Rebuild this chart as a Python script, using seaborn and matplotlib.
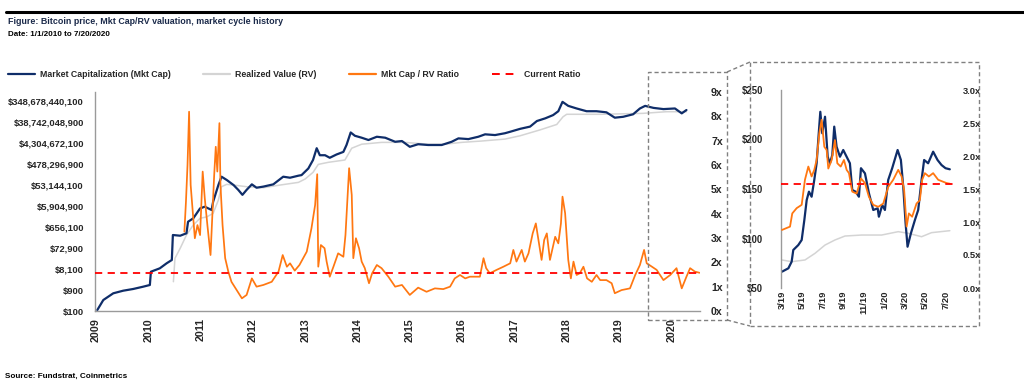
import matplotlib
matplotlib.use("Agg")
import matplotlib.pyplot as plt
import seaborn as sns
import pandas as pd
from matplotlib.lines import Line2D
from matplotlib.patches import Rectangle
from matplotlib import font_manager as fm
from matplotlib.ticker import NullLocator

# ---------------- data ----------------
mc_year = [2009.025, 2009.14, 2009.33, 2009.52, 2009.71, 2009.90, 2010.03, 2010.05, 2010.22, 2010.35,
           2010.45, 2010.47, 2010.61, 2010.73, 2010.76, 2010.86, 2010.99, 2011.08, 2011.21, 2011.24,
           2011.34, 2011.40, 2011.50, 2011.63, 2011.72, 2011.80, 2011.88, 2011.98, 2012.07, 2012.20,
           2012.39, 2012.58, 2012.71, 2012.87, 2012.93, 2013.06, 2013.15, 2013.22, 2013.28, 2013.38,
           2013.47, 2013.60, 2013.73, 2013.79, 2013.87, 2013.95, 2014.08, 2014.21, 2014.37, 2014.53,
           2014.72, 2014.85, 2015.00, 2015.16, 2015.35, 2015.61, 2015.80, 2015.93, 2016.12, 2016.31,
           2016.44, 2016.63, 2016.82, 2016.92, 2017.11, 2017.30, 2017.43, 2017.59, 2017.74, 2017.84,
           2017.92, 2018.03, 2018.19, 2018.38, 2018.57, 2018.76, 2018.92, 2019.08, 2019.27, 2019.40,
           2019.50, 2019.66, 2019.85, 2020.07, 2020.20, 2020.29]
mc_value = [111, 316, 637, 837, 1000, 1270, 1520, 6100, 8700, 14700,
            20800, 284000, 264000, 340000, 1.14e6, 1.63e6, 4.6e6, 5.5e6, 3.9e6, 9.3e6,
            5.3e7, 1.27e8, 9.0e7, 5.3e7, 3.2e7, 1.9e7, 3.2e7, 5.7e7, 4.0e7, 4.5e7,
            5.7e7, 1.27e8, 1.14e8, 1.41e8, 1.5e8, 3.0e8, 7.3e8, 2.5e9, 1.2e9, 1.2e9,
            9.2e8, 1.3e9, 1.7e9, 3.5e9, 1.3e10, 9.2e9, 7.5e9, 5.9e9, 8.3e9, 7.5e9,
            4.9e9, 5.3e9, 2.9e9, 3.8e9, 3.5e9, 3.5e9, 4.9e9, 7.0e9, 6.5e9, 8.3e9,
            1.07e10, 9.9e9, 1.2e10, 1.4e10, 1.9e10, 2.4e10, 4.3e10, 5.7e10, 8.0e10, 1.2e11,
            3.2e11, 2.1e11, 1.6e11, 1.2e11, 1.2e11, 1.07e11, 6.1e10, 6.7e10, 8.7e10, 1.6e11,
            2.1e11, 1.7e11, 1.5e11, 1.6e11, 9.6e10, 1.36e11]

rv_year = [2010.48, 2010.51, 2010.61, 2010.73, 2010.86, 2010.99, 2011.12, 2011.24, 2011.34, 2011.40,
           2011.50, 2011.63, 2011.88, 2012.20, 2012.52, 2012.87, 2013.00, 2013.15, 2013.25, 2013.44,
           2013.76, 2013.89, 2014.08, 2014.46, 2014.91, 2015.35, 2015.67, 2015.99, 2016.37, 2016.82,
           2017.11, 2017.49, 2017.81, 2017.93, 2018.00, 2018.64, 2019.46, 2019.91, 2020.29]
rv_value = [2140, 24800, 70700, 2.84e5, 8.1e5, 1.63e6, 1.9e6, 2.75e6, 1.1e7, 4.45e7,
            5.7e7, 5.3e7, 4.45e7, 4.0e7, 5.3e7, 7.0e7, 1.0e8, 2.0e8, 4.6e8, 5.7e8,
            7.3e8, 2.5e9, 3.8e9, 4.6e9, 4.6e9, 3.8e9, 3.8e9, 4.6e9, 5.3e9, 6.5e9,
            9.2e9, 1.7e10, 3.0e10, 6.7e10, 8.7e10, 8.7e10, 9.6e10, 1.14e11, 1.14e11]

ratio_year = [2010.69, 2010.72, 2010.75, 2010.78, 2010.81, 2010.85, 2010.89, 2010.94, 2010.99, 2011.04,
              2011.08, 2011.13, 2011.19, 2011.26, 2011.29, 2011.32, 2011.36, 2011.38, 2011.42, 2011.47,
              2011.53, 2011.59, 2011.69, 2011.79, 2011.88, 2011.98, 2012.07, 2012.20, 2012.36, 2012.49,
              2012.57, 2012.65, 2012.71, 2012.80, 2012.89, 2013.03, 2013.12, 2013.19, 2013.23, 2013.25,
              2013.30, 2013.37, 2013.41, 2013.47, 2013.54, 2013.63, 2013.73, 2013.77, 2013.84, 2013.89,
              2013.92, 2013.97, 2014.03, 2014.08, 2014.14, 2014.22, 2014.28, 2014.37, 2014.46, 2014.59,
              2014.72, 2014.85, 2015.00, 2015.16, 2015.32, 2015.48, 2015.64, 2015.77, 2015.86, 2015.96,
              2016.06, 2016.15, 2016.34, 2016.41, 2016.46, 2016.53, 2016.66, 2016.79, 2016.92, 2016.98,
              2017.04, 2017.14, 2017.20, 2017.27, 2017.35, 2017.41, 2017.46, 2017.52, 2017.57, 2017.62,
              2017.68, 2017.78, 2017.84, 2017.89, 2017.92, 2017.97, 2018.00, 2018.03, 2018.08, 2018.13,
              2018.19, 2018.25, 2018.32, 2018.39, 2018.48, 2018.57, 2018.64, 2018.76, 2018.86, 2018.92,
              2019.05, 2019.21, 2019.31, 2019.40, 2019.48, 2019.53, 2019.63, 2019.72, 2019.85, 2019.98,
              2020.10, 2020.20, 2020.29, 2020.36, 2020.45, 2020.54]
ratio_value = [3.26, 4.49, 6.0, 8.19, 5.18, 4.08, 2.99, 3.53, 3.12, 5.73,
               4.63, 3.53, 2.30, 5.59, 6.75, 5.73, 7.72, 5.18, 3.53, 2.17,
               1.62, 1.20, 0.86, 0.52, 0.66, 1.34, 1.0, 1.07, 1.20, 1.62,
               2.30, 1.82, 1.96, 1.66, 1.89, 2.44, 3.40, 4.36, 5.62, 1.82,
               2.71, 2.58, 2.03, 1.41, 1.82, 2.37, 2.23, 3.12, 5.87, 4.77,
               2.17, 2.99, 2.58, 2.03, 1.76, 1.14, 1.55, 1.89, 1.76, 1.41,
               1.0, 1.07, 0.66, 0.96, 0.79, 0.93, 0.90, 1.00, 1.34, 1.48,
               1.34, 1.41, 1.41, 2.17, 1.76, 1.55, 1.69, 1.82, 1.96, 2.51,
               2.03, 2.51, 2.03, 2.37, 3.19, 3.60, 2.92, 2.10, 2.92, 3.19,
               2.10, 3.05, 2.78, 3.60, 4.70, 4.02, 3.05, 2.10, 1.34, 2.03,
               1.48, 1.55, 1.82, 1.34, 1.20, 1.48, 1.27, 1.27, 1.14, 0.73,
               0.86, 0.93, 1.48, 1.89, 2.51, 1.96, 1.82, 1.69, 1.27, 1.48,
               1.76, 0.93, 1.41, 1.76, 1.62, 1.57]

current_ratio = 1.57
year_ticks = list(range(2009, 2021))
usd_ticks = [100 * 9 ** k for k in range(11)]
ratio_ticks = list(range(10))

# inset (x = months since 1 Mar 2019)
inset_mc_month = [0, 0.62, 0.94, 1.10, 1.59, 1.92, 2.18, 2.41, 2.63, 2.89, 3.15, 3.38, 3.61, 3.74,
                  3.93, 4.20, 4.46, 4.68, 4.91, 5.10, 5.33, 5.66, 5.98, 6.31, 6.63, 6.86, 7.19, 7.51,
                  7.71, 8.10, 8.49, 8.91, 9.34, 9.46, 9.79, 10.05, 10.37, 10.76, 11.29, 11.61, 11.84,
                  12.07, 12.26, 12.59, 12.98, 13.30, 13.63, 13.88, 14.27, 14.76, 15.19, 15.58, 15.97, 16.39]
inset_mc_value = [66.5, 69.9, 76.6, 88.4, 93.4, 98.5, 118.7, 138.9, 147.3, 142.2, 159.1, 176, 209.6, 228,
                  206.3, 223, 182.6, 176, 184.3, 213, 192.7, 182.6, 189.4, 182.6, 176, 149, 147.3, 142.2,
                  171, 165.8, 145.7, 128.8, 130.5, 122, 133.8, 128.8, 159.1, 171, 189.4, 179.3, 152.3,
                  115.4, 91.7, 105.3, 118.7, 128.8, 159.1, 179.3, 176, 187.7, 179.3, 174.2, 171, 169.9]
inset_rv_month = [0, 0.94, 2.24, 3.22, 4.20, 5.17, 6.15, 7.78, 9.73, 11.35, 12.32, 13.63, 14.60, 16.39]
inset_rv_value = [78.3, 76.6, 78.3, 85, 93.4, 98.5, 102.5, 103.5, 103.5, 106.9, 105.3, 101.8, 105.9, 107.9]
inset_ratio_month = [0, 0.78, 1.0, 1.43, 1.92, 2.24, 2.57, 2.89, 3.15, 3.38, 3.64, 3.87, 4.13, 4.36,
                     4.52, 4.85, 5.17, 5.40, 5.73, 6.05, 6.31, 6.54, 6.86, 7.29, 7.71, 8.10, 8.49, 8.91,
                     9.40, 9.89, 10.37, 10.86, 11.35, 11.68, 11.93, 12.17, 12.39, 12.71, 13.14, 13.46,
                     13.69, 13.95, 14.34, 14.76, 15.25, 15.74, 16.07, 16.39]
inset_ratio_value = [0.88, 0.93, 1.13, 1.21, 1.26, 1.64, 1.84, 1.69, 1.79, 1.94, 2.34, 2.55, 2.14, 2.09,
                     1.81, 1.94, 2.24, 1.89, 1.84, 1.94, 1.79, 1.74, 1.46, 1.43, 1.66, 1.59, 1.38, 1.26,
                     1.23, 1.28, 1.53, 1.64, 1.79, 1.69, 1.48, 0.93, 1.13, 1.08, 1.28, 1.33,
                     1.64, 1.74, 1.69, 1.74, 1.64, 1.61, 1.59, 1.58]
inset_month_ticks = [0, 2, 4, 6, 8, 10, 12, 14, 16]
inset_month_labels = ['3/19', '5/19', '7/19', '9/19', '11/19', '1/20', '3/20', '5/20', '7/20']
inset_usd_ticks = [50, 100, 150, 200, 250]
inset_ratio_ticks = [0, 0.5, 1.0, 1.5, 2.0, 2.5, 3.0]

legend_labels = ['Market Capitalization (Mkt Cap)', 'Realized Value (RV)',
                 'Mkt Cap / RV Ratio', 'Current Ratio']

# ---------------- style ----------------
NAVY = '#0f2d69'
GRAY = '#d4d4d4'
ORANGE = '#ff7711'
RED = '#ff0000'
SPINE = '#9a9a9a'
BOXC = '#808080'

sns.set_style('white')
names = {f.name for f in fm.fontManager.ttflist}
NARROW = 'Liberation Sans Narrow' in names
FONT = 'Liberation Sans Narrow' if NARROW else 'Liberation Sans'
plt.rcParams['font.family'] = [FONT, 'DejaVu Sans']
plt.rcParams['font.weight'] = 'bold'
S = 1.0 if NARROW else 0.84

W, H = 1024, 385
fig = plt.figure(figsize=(W / 100, H / 100), dpi=100)
fx = lambda px: px / W
fy = lambda py: 1 - py / H

# ---------------- main chart ----------------
ax = fig.add_axes([fx(95), fy(311), fx(700) - fx(95), fy(92) - fy(311)])
ax.set_facecolor('none')
sns.lineplot(x=rv_year, y=rv_value, ax=ax, color=GRAY, lw=1.1, sort=False, estimator=None)
sns.lineplot(x=mc_year, y=mc_value, ax=ax, color=NAVY, lw=1.6, sort=False, estimator=None)
ax.set_yscale('log')
ax.set_ylim(100, 100 * 9 ** 10.43)
ax.set_xlim(2008.981, 2020.549)
ax.set_yticks(usd_ticks)
ax.set_yticklabels(['${:,}'.format(v) for v in usd_ticks])
ax.yaxis.set_minor_locator(NullLocator())
ax.set_xticks(year_ticks)
ax.set_xticklabels([str(y) for y in year_ticks], rotation=90)
ax.tick_params(axis='y', length=0, pad=8, labelsize=8 * S)
ax.tick_params(axis='x', length=0, pad=5, labelsize=9.2 * S)
for s in ['top', 'right']:
    ax.spines[s].set_visible(False)
for s in ['left', 'bottom']:
    ax.spines[s].set_color(SPINE)
    ax.spines[s].set_linewidth(1.0)
ax.set_xlabel('')
ax.set_ylabel('')

ax2 = ax.twinx()
sns.lineplot(x=ratio_year, y=ratio_value, ax=ax2, color=ORANGE, lw=1.25, sort=False, estimator=None)
ax2.axhline(current_ratio, color=RED, lw=1.3, ls=(0, (4, 3)))
ax2.set_ylim(0, 9)
ax2.set_yticks(ratio_ticks)
ax2.set_yticklabels([f'{k}x' for k in ratio_ticks])
ax2.tick_params(axis='y', length=0, pad=8, labelsize=9 * S)
for s in ax2.spines.values():
    s.set_visible(False)
ax2.set_ylabel('')

# ---------------- inset chart ----------------
ai = fig.add_axes([fx(781), fy(288), fx(953) - fx(781), fy(90) - fy(288)])
ai.set_facecolor('none')
sns.lineplot(x=inset_rv_month, y=inset_rv_value, ax=ai, color=GRAY, lw=1.1, sort=False, estimator=None)
sns.lineplot(x=inset_mc_month, y=inset_mc_value, ax=ai, color=NAVY, lw=1.6, sort=False, estimator=None)
ai.set_ylim(50, 250)
ai.set_xlim(-0.1, 16.7)
ai.set_yticks(inset_usd_ticks)
ai.set_yticklabels([f'${v}' for v in inset_usd_ticks])
ai.set_xticks(inset_month_ticks)
ai.set_xticklabels(inset_month_labels, rotation=90)
ai.tick_params(axis='y', length=0, pad=13, labelsize=8.2 * S)
ai.tick_params(axis='x', length=0, pad=2, labelsize=8 * S)
for s in ['top', 'right', 'bottom']:
    ai.spines[s].set_visible(False)
ai.spines['left'].set_color(SPINE)
ai.spines['left'].set_linewidth(1.0)
ai.set_xlabel('')
ai.set_ylabel('')

ai2 = ai.twinx()
sns.lineplot(x=inset_ratio_month, y=inset_ratio_value, ax=ai2, color=ORANGE, lw=1.3, sort=False, estimator=None)
ai2.axhline(current_ratio, color=RED, lw=1.3, ls=(0, (4, 3)))
ai2.set_ylim(0, 3.0)
ai2.set_yticks(inset_ratio_ticks)
ai2.set_yticklabels([f'{v:.1f}x' for v in inset_ratio_ticks])
ai2.tick_params(axis='y', length=0, pad=7, labelsize=8 * S)
for s in ai2.spines.values():
    s.set_visible(False)
ai2.set_ylabel('')

# ---------------- zoom boxes ----------------
dash = (0, (3, 2))
fig.add_artist(Rectangle((fx(648), fy(320)), fx(727) - fx(648), fy(72) - fy(320),
                         transform=fig.transFigure, fill=False, ec=BOXC, lw=1.0, ls=dash))
fig.add_artist(Rectangle((fx(750), fy(326)), fx(979) - fx(750), fy(62) - fy(326),
                         transform=fig.transFigure, fill=False, ec=BOXC, lw=1.0, ls=dash))
fig.add_artist(Line2D([fx(727), fx(750)], [fy(72), fy(62)], transform=fig.transFigure,
                      color=BOXC, lw=1.0, ls=dash))
fig.add_artist(Line2D([fx(727), fx(750)], [fy(320), fy(326)], transform=fig.transFigure,
                      color=BOXC, lw=1.0, ls=dash))

# ---------------- header / legend / footer ----------------
fig.add_artist(Line2D([fx(6), 1.0], [fy(12), fy(12)], transform=fig.transFigure, color='black', lw=2.2))
fig.text(fx(8), fy(21), 'Figure: Bitcoin price, Mkt Cap/RV valuation, market cycle history',
         fontsize=7.6 * S, fontweight='bold', color='#1b2a4a', va='center', ha='left')
fig.text(fx(8), fy(34), 'Date: 1/1/2010 to 7/20/2020', fontsize=6.9 * S, fontweight='bold',
         color='black', va='center', ha='left')
fig.text(fx(5), fy(376), 'Source: Fundstrat, Coinmetrics', fontsize=7.0 * S, fontweight='bold',
         color='black', va='center', ha='left')

handles = [Line2D([], [], color=NAVY, lw=1.6), Line2D([], [], color=GRAY, lw=1.6),
           Line2D([], [], color=ORANGE, lw=1.6), Line2D([], [], color=RED, lw=1.4, ls=(0, (4, 3)))]
fig.legend(handles, legend_labels, loc='upper left', bbox_to_anchor=(fx(8), fy(70)), ncol=4,
           frameon=False, fontsize=7.5 * S, handlelength=3.1, handletextpad=0.57, columnspacing=3.7,
           borderpad=0, borderaxespad=0)

fig.savefig('out.png', dpi=100)
